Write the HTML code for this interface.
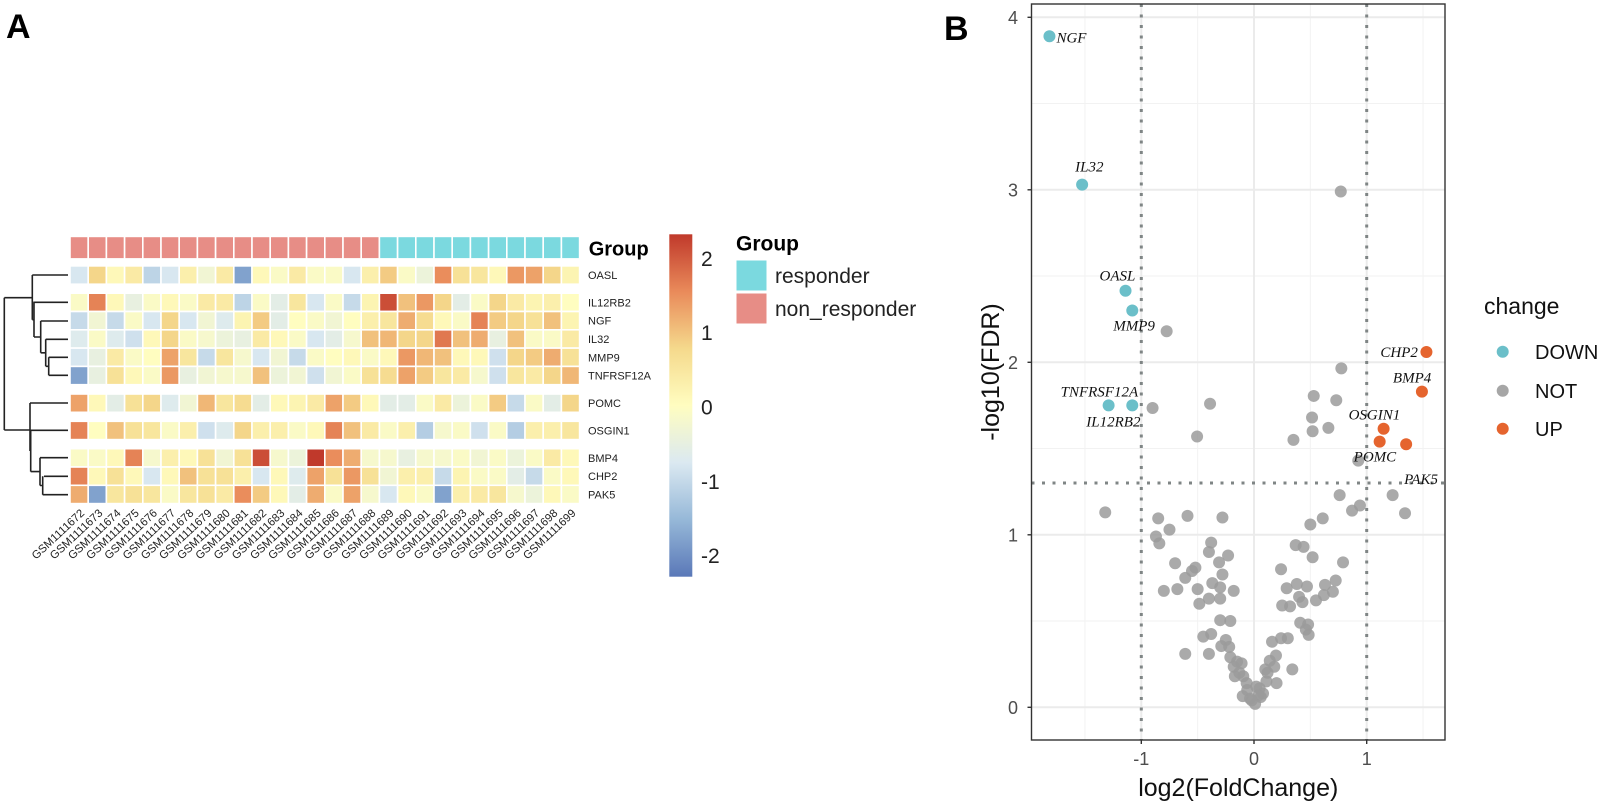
<!DOCTYPE html>
<html><head><meta charset="utf-8"><style>
html,body{margin:0;padding:0;background:#fff;}
svg{display:block;font-family:"Liberation Sans",sans-serif;}
</style></head><body>
<svg id="fig" width="1600" height="803" viewBox="0 0 1600 803" xmlns="http://www.w3.org/2000/svg">
<defs>
<linearGradient id="cbar" x1="0" y1="1" x2="0" y2="0">
<stop offset="0" stop-color="#5a78b8"/><stop offset="0.1667" stop-color="#96b8d8"/><stop offset="0.3333" stop-color="#dbe9f1"/><stop offset="0.5" stop-color="#fffdc0"/><stop offset="0.6667" stop-color="#f5d98c"/><stop offset="0.8333" stop-color="#e98a5a"/><stop offset="1" stop-color="#c0392b"/>
</linearGradient>
</defs>
<text x="6" y="38" font-size="34" font-weight="bold">A</text>
<text x="944" y="40" font-size="34" font-weight="bold">B</text>
<g id="heat"></g>
<path fill="none" stroke="#222" stroke-width="1.6"
 d="M32.3,275H68 M33.3,302.3H68 M40.7,321H68 M45.7,339.3H68 M48.7,357.3H68 M48.7,375.3H68
 M48.7,357.3V375.3 M45.7,366.3H48.7 M45.7,339.3V366.3 M40.7,352.8H45.7 M40.7,321V352.8 M34,337H40.7 M34,302.3V337 M32.3,319.7H34 M32.3,275V319.7 M4.3,297.7H32.3
 M30,403H68 M30.7,430.3H68 M40,457.7H68 M44,476.3H68 M42.7,494.7H68
 M42.7,476.3V494.7 M40,485.5H42.7 M40,457.7V485.5 M30.7,471.6H40 M30.7,430.3V471.6 M30,451H30.7 M30,403V451 M4.3,430H30 M4.3,297.7V430"/>
<text x="588.7" y="255.7" font-size="20" font-weight="bold">Group</text>
<rect x="669.3" y="234.3" width="23" height="342.4" fill="url(#cbar)"/>
<g id="cbticks" font-size="21" fill="#222"></g>
<text x="736" y="250.7" font-size="21" font-weight="bold">Group</text>
<rect x="736" y="260" width="31" height="31" fill="#7bd9df" stroke="#fff"/>
<rect x="736" y="293" width="31" height="31" fill="#e78d86" stroke="#fff"/>
<text x="775" y="283" font-size="21" fill="#222">responder</text>
<text x="775" y="316" font-size="21" fill="#222">non_responder</text>
<g id="volc"></g>
<text x="1484" y="314" font-size="23" fill="#111">change</text>
<circle cx="1502.7" cy="351.7" r="6" fill="#6bbfc9"/>
<circle cx="1502.7" cy="390.7" r="6" fill="#a6a6a6"/>
<circle cx="1502.7" cy="428.7" r="6" fill="#e5642e"/>
<text x="1535" y="359" font-size="20" fill="#111">DOWN</text>
<text x="1535" y="398" font-size="20" fill="#111">NOT</text>
<text x="1535" y="436" font-size="20" fill="#111">UP</text>
</svg>
<script>
const NS="http://www.w3.org/2000/svg";
const genes=["OASL","IL12RB2","NGF","IL32","MMP9","TNFRSF12A","POMC","OSGIN1","BMP4","CHP2","PAK5"];
const samples=["GSM1111672","GSM1111673","GSM1111674","GSM1111675","GSM1111676","GSM1111677","GSM1111678","GSM1111679","GSM1111680","GSM1111681","GSM1111682","GSM1111683","GSM1111684","GSM1111685","GSM1111686","GSM1111687","GSM1111688","GSM1111689","GSM1111690","GSM1111691","GSM1111692","GSM1111693","GSM1111694","GSM1111695","GSM1111696","GSM1111697","GSM1111698","GSM1111699"];
const groups=["non_responder","non_responder","non_responder","non_responder","non_responder","non_responder","non_responder","non_responder","non_responder","non_responder","non_responder","non_responder","non_responder","non_responder","non_responder","non_responder","non_responder","responder","responder","responder","responder","responder","responder","responder","responder","responder","responder","responder"];
const valOASL=[-0.8,0.8,0.1,0.4,-1.1,-0.8,0.3,-0.3,0.4,-1.8,0.1,-0.1,0.4,-0.1,-0.1,-0.8,0.3,0.9,-0.1,-0.4,1.5,0.6,0.5,0.1,1.4,1.3,0.8,0.2];
const valIL12RB2=[-0.1,1.6,0.1,-0.5,-0.1,0.1,-0.1,0.4,0.4,-1.1,-0.1,-0.6,0.5,-0.8,-0.1,-1.0,0.2,2.1,1.0,1.4,0.8,-0.6,-0.1,0.8,0.4,0.2,0.3,0.0];
const valNGF=[-1.0,-0.3,-1.0,-0.1,-0.8,0.8,-0.8,-0.3,-0.7,0.2,0.9,-0.6,0.0,-0.1,-0.3,0.0,0.3,0.5,1.2,0.7,0.1,-0.1,1.6,0.9,0.8,0.6,1.0,0.2];
const valIL32=[-0.7,-0.1,-0.7,-0.9,0.1,0.8,-0.1,-0.2,-0.4,-0.5,0.4,0.1,-0.1,-0.8,-0.6,-0.2,1.0,1.1,0.8,0.8,1.7,1.0,1.2,-0.5,1.0,-0.1,-0.1,0.4];
const valMMP9=[-0.8,-0.5,0.4,-0.1,0.0,1.3,0.5,-1.0,0.5,-0.2,-0.8,-0.3,-1.0,-0.1,0.0,0.1,-0.1,0.1,1.4,1.1,1.0,0.1,0.1,-0.9,0.8,0.9,1.2,0.6];
const valTNFRSF12A=[-1.8,-0.5,0.6,0.1,-0.1,1.4,-0.5,-0.3,-0.2,-0.2,1.0,-0.4,-0.3,-0.9,-0.3,-0.1,0.6,0.7,1.3,0.9,0.5,0.4,-0.2,-0.9,0.5,0.4,0.8,1.1];
const valPOMC=[1.3,0.1,-0.6,0.6,0.8,-0.7,-0.3,1.1,0.5,0.7,-0.6,0.1,0.2,0.4,1.3,0.9,0.1,-0.6,-0.6,-0.1,0.4,-0.4,-0.1,0.9,-1.0,-0.1,-0.6,0.8];
const valOSGIN1=[1.6,0.0,1.0,0.6,0.5,-0.1,0.3,-0.9,-0.7,0.8,0.3,0.3,-0.1,0.1,1.6,1.0,0.4,-0.1,0.3,-1.2,-0.2,-0.1,-0.9,-0.1,-1.2,0.3,0.3,0.5];
const valBMP4=[-0.1,-0.1,0.1,1.6,-0.2,0.3,0.1,0.6,-0.3,0.6,2.1,-0.2,-0.4,2.3,1.5,1.2,-0.2,-0.2,-0.5,-0.2,-0.2,-0.1,-0.3,-0.1,-0.4,-0.1,0.4,0.1];
const valCHP2=[1.6,0.1,0.6,0.1,-0.8,0.1,1.0,0.6,0.6,0.3,-0.8,0.1,-0.7,1.3,0.6,1.4,0.6,-0.3,0.3,0.3,-1.0,0.2,-0.1,-0.1,-0.6,-1.0,-0.1,0.1];
const valPAK5=[1.2,-1.8,0.5,0.6,0.5,-0.1,0.5,0.6,0.4,1.5,0.9,0.1,-0.6,1.2,-0.1,1.3,-0.2,-0.8,0.1,-0.1,-1.8,0.3,0.4,0.5,-0.2,-0.4,0.1,-0.1];
const heatRows=[valOASL,valIL12RB2,valNGF,valIL32,valMMP9,valTNFRSF12A,valPOMC,valOSGIN1,valBMP4,valCHP2,valPAK5];
const cbTicks=[2,1,0,-1,-2];

const dnNames=["NGF","IL32","OASL","MMP9","TNFRSF12A","IL12RB2"];
const dnFC=[-1.815,-1.525,-1.14,-1.08,-1.29,-1.08];
const dnFDR=[3.89,3.03,2.415,2.30,1.75,1.75];
const upNames=["CHP2","BMP4","OSGIN1","POMC","PAK5"];
const upFC=[1.53,1.49,1.15,1.115,1.35];
const upFDR=[2.06,1.83,1.615,1.54,1.525];
const notFC=[0.77,-0.775,0.775,-0.90,-0.39,-0.505,0.53,0.73,0.515,0.66,0.52,0.35,0.925,-1.32,-0.85,-0.59,-0.28,-0.75,-0.87,-0.84,-0.38,-0.40,-0.23,-0.31,-0.70,-0.52,-0.55,-0.28,-0.61,-0.37,-0.30,-0.80,-0.68,-0.50,-0.18,-0.40,-0.30,-0.485,-0.30,-0.21,-0.45,-0.38,-0.25,-0.61,-0.40,-0.29,-0.22,-0.21,-0.15,-0.11,-0.18,-0.17,-0.095,-0.065,-0.10,-0.035,0.01,0.37,0.44,0.52,0.79,0.24,0.38,0.29,0.47,0.63,0.725,0.70,0.62,0.55,0.40,0.43,0.25,0.32,0.41,0.48,0.46,0.485,0.16,0.24,0.30,0.195,0.34,0.18,0.12,0.20,0.11,0.05,0.04,0.08,0.76,0.87,0.94,0.61,0.50,1.23,1.34,-0.06,0.02,0.06,-0.02,0.10,0.14,-0.13];
const notFDR=[2.99,2.18,1.965,1.735,1.76,1.57,1.805,1.78,1.68,1.62,1.60,1.55,1.43,1.13,1.095,1.11,1.10,1.03,0.99,0.95,0.955,0.90,0.88,0.84,0.835,0.81,0.79,0.77,0.75,0.72,0.695,0.675,0.685,0.685,0.675,0.63,0.63,0.60,0.505,0.50,0.41,0.425,0.39,0.31,0.31,0.355,0.35,0.29,0.265,0.255,0.235,0.18,0.18,0.14,0.065,0.05,0.02,0.94,0.93,0.87,0.84,0.80,0.715,0.69,0.70,0.71,0.735,0.67,0.65,0.62,0.64,0.61,0.59,0.585,0.49,0.48,0.45,0.42,0.38,0.40,0.40,0.30,0.22,0.235,0.20,0.14,0.15,0.11,0.07,0.08,1.23,1.14,1.17,1.095,1.06,1.23,1.125,0.10,0.12,0.06,0.04,0.22,0.27,0.20];
const xTicks=[-1,0,1];
const yTicks=[0,1,2,3,4];

function mk(tag,attrs,parent){const e=document.createElementNS(NS,tag);for(const k in attrs)e.setAttribute(k,attrs[k]);parent.appendChild(e);return e;}
function lerp(a,b,t){return Math.round(a+(b-a)*t);}
const cStops=[[-2.3,[90,120,184]],[-1.533,[150,184,216]],[-0.767,[219,233,241]],[0,[255,253,192]],[0.767,[245,217,140]],[1.533,[233,138,90]],[2.3,[192,57,43]]];
function col(v){v=Math.max(-2.3,Math.min(2.3,v));for(let i=0;i<cStops.length-1;i++){const a=cStops[i],b=cStops[i+1];if(v<=b[0]){const t=(v-a[0])/(b[0]-a[0]);return `rgb(${lerp(a[1][0],b[1][0],t)},${lerp(a[1][1],b[1][1],t)},${lerp(a[1][2],b[1][2],t)})`;}}return "rgb(192,57,43)";}

const heat=document.getElementById('heat');
const x0=70,pitch=18.2;
const rowTop=[265.9,293.2,311.5,329.8,348.1,366.4,394.0,421.3,448.7,467.0,485.3];
const colX=i=>x0+i*pitch;
const grpCol={responder:"#7bd9df",non_responder:"#e78d86"};
groups.forEach((g,i)=>{
  const r=mk('rect',{x:colX(i),y:236.4,width:pitch,height:22.5,fill:grpCol[g],stroke:"#fff","stroke-width":1.6},heat);
  
  
});
heatRows.forEach((row,ri)=>{
  row.forEach((v,ci)=>{
    const r=mk('rect',{x:colX(ci),y:rowTop[ri],width:pitch,height:18.3,fill:col(v),stroke:"#fff","stroke-width":1.6},heat);
    
    
  });
  const t=mk('text',{x:588,y:rowTop[ri]+13.2,"font-size":11,fill:"#222"},heat);
  t.textContent=genes[ri];
  
  
});
samples.forEach((s,i)=>{
  const cx=colX(i)+pitch/2+6,cy=514;
  const t=mk('text',{x:cx,y:cy,"font-size":11.3,fill:"#222","text-anchor":"end",transform:`rotate(-43 ${cx} ${cy})`},heat);
  t.textContent=s;
  
  
});
const cbg=document.getElementById('cbticks');
const cbY=v=>407-v*74.3;
cbTicks.forEach(v=>{
  const t=mk('text',{x:701,y:cbY(v)+7.5},cbg);
  t.textContent=String(v);
  
  
});

const V=document.getElementById('volc');
const L=1031.5,R=1445,T=4,B=740;
const sx=v=>1254+v*112.7;
const sy=v=>707.3-v*172.5;
[-1.5,-0.5,0.5,1.5].forEach(v=>{const l=mk('line',{x1:sx(v),x2:sx(v),y1:T,y2:B,stroke:"#f2f2f2","stroke-width":1},V);});
[0.5,1.5,2.5,3.5].forEach(v=>{const l=mk('line',{x1:L,x2:R,y1:sy(v),y2:sy(v),stroke:"#f2f2f2","stroke-width":1},V);});
xTicks.forEach(v=>{const l=mk('line',{x1:sx(v),x2:sx(v),y1:T,y2:B,stroke:"#ebebeb","stroke-width":2},V);});
yTicks.forEach(v=>{const l=mk('line',{x1:L,x2:R,y1:sy(v),y2:sy(v),stroke:"#ebebeb","stroke-width":2},V);});
[-1,1].forEach(v=>{const l=mk('line',{x1:sx(v),x2:sx(v),y1:T,y2:B,stroke:"#7f8585","stroke-width":3,"stroke-dasharray":"3 7.5"},V);});
{const l=mk('line',{x1:L,x2:R,y1:sy(1.3),y2:sy(1.3),stroke:"#7f8585","stroke-width":3,"stroke-dasharray":"3 7.5"},V);}
notFC.forEach((v,i)=>{const c=mk('circle',{cx:sx(v),cy:sy(notFDR[i]),r:6,fill:"#9b9b9b","fill-opacity":0.85},V);});
dnFC.forEach((v,i)=>{const c=mk('circle',{cx:sx(v),cy:sy(dnFDR[i]),r:6,fill:"#6bbfc9"},V);});
upFC.forEach((v,i)=>{const c=mk('circle',{cx:sx(v),cy:sy(upFDR[i]),r:6,fill:"#e5642e"},V);});
const lblOff={NGF:[7,6,"start"],IL32:[-7,-13,"start"],OASL:[-26,-10,"start"],MMP9:[-19,20,"start"],TNFRSF12A:[-48,-9,"start"],IL12RB2:[-46,21,"start"],CHP2:[-46,5,"start"],BMP4:[-29,-9,"start"],OSGIN1:[-35,-9,"start"],POMC:[-26,20,"start"],PAK5:[-2,40,"start"]};
dnNames.concat(upNames).forEach((n,i)=>{
  const isDn=i<dnNames.length;const k=isDn?i:i-dnNames.length;
  const fx=isDn?dnFC[k]:upFC[k],fy=isDn?dnFDR[k]:upFDR[k];
  const o=lblOff[n];
  const t=mk('text',{x:sx(fx)+o[0],y:sy(fy)+o[1],"font-size":15,"font-style":"italic","font-family":"Liberation Serif, serif",fill:"#111","text-anchor":o[2]},V);
  t.textContent=n;
  
  
});
{const f=mk('rect',{x:L,y:T,width:R-L,height:B-T,fill:"none",stroke:"#333","stroke-width":1.4},V);}
yTicks.forEach(v=>{
  mk('line',{x1:L-4,x2:L,y1:sy(v),y2:sy(v),stroke:"#333","stroke-width":1.4},V);
  const t=mk('text',{x:1018,y:sy(v)+6.5,"font-size":18,fill:"#4d4d4d","text-anchor":"end"},V);
  t.textContent=String(v);
  
  
});
xTicks.forEach(v=>{
  mk('line',{x1:sx(v),x2:sx(v),y1:B,y2:B+4,stroke:"#333","stroke-width":1.4},V);
  const t=mk('text',{x:sx(v),y:765,"font-size":18,fill:"#4d4d4d","text-anchor":"middle"},V);
  t.textContent=String(v);
  
  
});
{const t=mk('text',{x:(L+R)/2,y:796,"font-size":25,fill:"#111","text-anchor":"middle"},V);t.textContent="log2(FoldChange)";}
{const t=mk('text',{x:999,y:372,"font-size":25,fill:"#111","text-anchor":"middle",transform:"rotate(-90 999 372)"},V);t.textContent="-log10(FDR)";}
</script>
</body></html>
